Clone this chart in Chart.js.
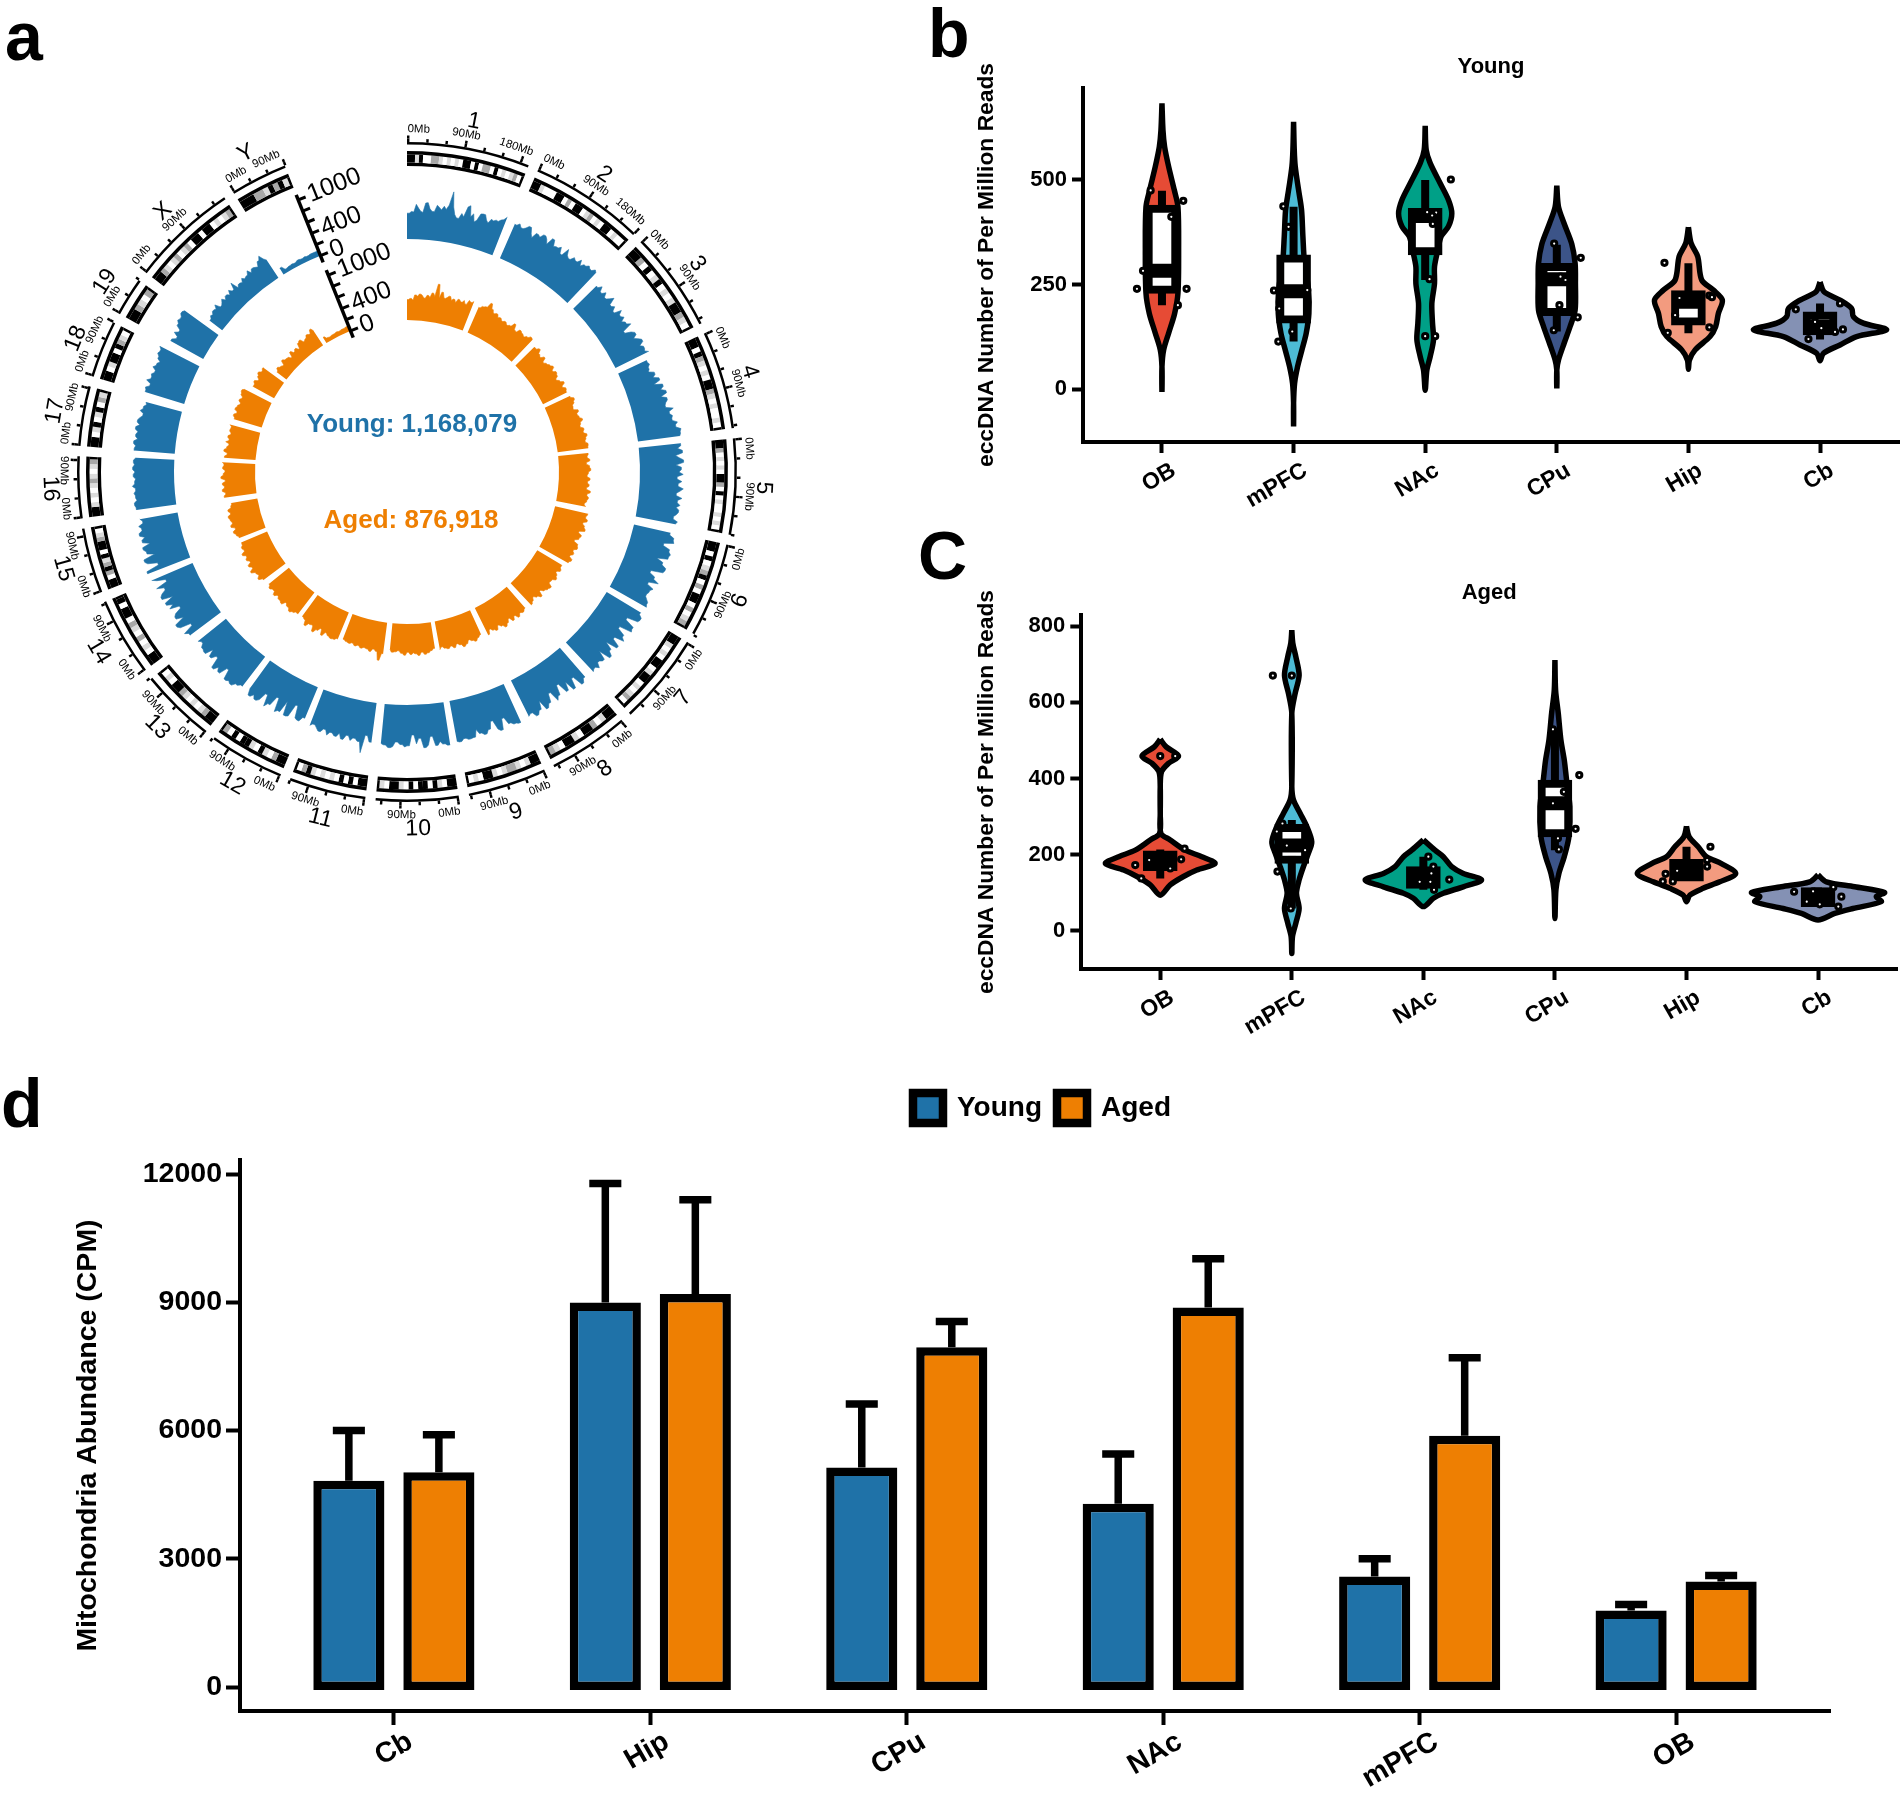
<!DOCTYPE html>
<html>
<head>
<meta charset="utf-8">
<title>eccDNA figure</title>
<script src="https://cdn.jsdelivr.net/npm/chart.js@4/dist/chart.umd.min.js"></script>
<style>
  html, body { margin: 0; padding: 0; background: #fff; }
  #page { position: relative; width: 1900px; height: 1799px; overflow: hidden; font-family: "Liberation Sans", sans-serif; }
  #page canvas { position: absolute; }
  .letter { position: absolute; font-weight: bold; font-size: 68px; line-height: 68px; color: #000; }
  .total { position: absolute; font-weight: bold; font-size: 26px; line-height: 30px; white-space: nowrap; transform: translateX(-50%); }
</style>
</head>
<body>
<div id="page">
  <canvas id="tracks" width="800" height="800" style="left:7px;top:72px"></canvas>
  <canvas id="rings" width="800" height="800" style="left:7px;top:72px"></canvas>
  <canvas id="young" width="946" height="472" style="left:960px;top:40px"></canvas>
  <canvas id="aged" width="944" height="474" style="left:960px;top:565px"></canvas>
  <canvas id="mito" width="1900" height="721" style="left:0;top:1078px"></canvas>
  <div class="letter" style="left:5px;top:2px">a</div>
  <div class="letter" style="left:928px;top:-1px">b</div>
  <div class="letter" style="left:918px;top:521px">C</div>
  <div class="letter" style="left:1px;top:1069px">d</div>
  <div class="total" style="left:412px;top:408px;color:#1f72a8">Young: 1,168,079</div>
  <div class="total" style="left:411px;top:504px;color:#ee7f02">Aged: 876,918</div>
</div>
<script>
// panel a
const chromNames = ['1','2','3','4','5','6','7','8','9','10','11','12','13','14','15','16','17','18','19','X','Y'];
const chromLengths = [195,182,160,156,152,150,145,129,125,131,122,120,120,125,104,98,95,91,61,171,91];

const chromBands = [
  'kklkwwgglwlwlwkkwkwggwkwlwlgw',
  'kklwwwkkwgwkkwlgwlwkkwlww',
  'kkgwkwlkwlwlkkglw',
  'kkwkglwlwkkglwlwwlw',
  'kkgwlwlwkkgwkwlwwlwlw',
  'kkwkwlgkwgwkkwgwlg',
  'kklwlwkkwlkkwlwlgw',
  'kklwgkkwlkkwlg',
  'kklwlgglwlkkwlw',
  'kkwlkwkkwkwlkkwl',
  'kkwkwkwlwlwlkgw',
  'kkgwlkwlkkwkwg',
  'kkglwlwlgkkwlw',
  'kkwlwgwlgwkkwk',
  'kkwgkglkwkkglw',
  'kklwlwlglwlg',
  'kkwlkwlkwgl',
  'kkwlkkwkglw',
  'kkglwg',
  'kkglwlgwlgwkkwkkwlwlg',
  'kkkgglkgkl'
];

const youngTrack = [
  [430,460,450,580,520,470,450,610,620,520,480,590,560,520,590,540,620,850,600,480,430,520,470,650,680,500,560,430,470,590,600,520,480,560,540,570,560,600,620,680],
  [620,660,610,640,690,600,540,640,610,680,640,570,700,600,620,660,560,700,610,580,650,620,690,600,660,700,670,720,690],
  [540,600,520,580,510,560,620,500,540,470,590,520,560,480,530,590,420,520,570,500,560,610,530,580,560,620],
  [520,540,500,470,560,510,600,480,620,560,640,530,620,580,560,680,600,640,620,700,660,740,720,700],
  [700,640,720,600,660,730,600,690,650,720,620,700,640,730,680,620,720,650,700,640,690,660,620,700,670],
  [620,700,720,560,680,720,700,520,640,720,700,500,600,700,540,660,620,600,640,680,700],
  [660,720,700,520,690,710,500,640,700,540,680,480,620,700,500,650,610,690,640,670],
  [640,700,520,680,500,640,460,620,680,500,640,700,520,660,720,640,670],
  [700,680,640,520,700,660,500,620,680,640,560,680,690,660,700,680],
  [720,690,640,700,540,680,720,560,650,500,680,700,660,620,700,720,680,660],
  [660,560,860,680,640,690,620,700,610,680,640,700,620,680,640,600,640],
  [560,640,620,420,640,660,430,640,680,450,620,690,500,640,680,620,680,560],
  [620,660,720,690,720,560,700,640,720,540,620,500,640,620,560,600],
  [640,700,520,700,740,560,680,640,520,680,600,700,540,720,680,600,720,520,660,740],
  [760,540,700,740,540,660,700,560,680,620,700,640,680,600,640],
  [670,690,640,660,680,650,700,660,640,680,650,690,660,680,640],
  [680,660,700,640,680,650,700,640,690,660,620,680,640,600,620],
  [680,700,640,720,660,680,640,700,660,620,680,720,700,740],
  [620,560,640,580,660,700,680,720,690],
  [260,300,280,320,300,360,270,300,340,280,330,290,360,310,420,280,320,300,360,320,340,400,330,380,360,340,420,480,400,350],
  [120,60,70,80,70,90,80,90,80,90,90,100]
];

const agedTrack = [
  [340,360,330,420,400,440,420,380,430,400,480,430,640,410,520,430,450,480,420,450,400,470,440,480,430,510,490,520],
  [460,500,520,610,530,480,500,450,470,440,460,430,450,520,440,430,490,470,450,480,520,500],
  [440,480,420,400,450,380,410,440,470,420,460,440,390,430,480,420,460,440],
  [460,510,480,440,430,500,460,480,520,470,450,500,480,530,500,480,520,510],
  [500,480,520,460,510,530,490,470,520,480,510,470,540,490,520,500,470,500],
  [560,540,580,520,560,590,500,560,540,480,560,580,530,560,520,580,550],
  [480,510,460,500,530,480,470,540,520,490,440,520,470,430,470,500],
  [470,500,480,520,460,510,440,490,530,480,440,500,470,430,500],
  [440,470,510,480,450,500,530,480,450,500,460,490,470,440,480],
  [440,470,500,520,480,530,500,480,510,470,520,490,450,470,480,430],
  [520,640,500,470,520,490,480,500,470,490,460,480,470,450],
  [480,510,520,500,470,540,450,500,560,470,480,540,460,440],
  [450,480,510,470,440,500,480,450,490,440,470,430],
  [460,520,480,500,560,500,540,480,520,490,540,480,500,470,460],
  [470,500,530,480,540,500,520,540,490,520,460,440],
  [540,510,560,520,550,500,570,530,500,540,520,550],
  [520,480,540,500,470,530,480,510,470,500,490,520],
  [480,510,470,520,500,470,510,480,520,540,500],
  [400,430,380,420,450,410,430],
  [200,240,210,190,260,230,220,180,260,210,240,200,280,300,240,260,300,280,340,290],
  [110,70,60,70,70,80,70,80,80,90,100]
];

const trackTickValues = [0,200,400,600,800,1000];
const trackTickLabels = ['0','','400','','','1000'];

// panels b and c
const regions = ['OB','mPFC','NAc','CPu','Hip','Cb'];
const regionColors = ['#e64b35','#4dbbd5','#00a087','#3c5488','#f39b7f','#8491b4'];

const youngLevels = [
  [683,619,579,532,476,436,333,229,181,134,94,54,-6],
  [639,572,532,476,428,365,301,237,181,134,94,54,14,-33,-89],
  [629,572,540,492,452,420,389,365,333,293,253,205,158,118,78,46,-2],
  [486,436,396,347,301,253,189,150,110,70,46,2],
  [387,349,317,261,237,213,181,150,126,94,70,48],
  [256,233,213,193,174,158,142,126,106,86,68]
];
const youngDensity = [
  [0,3,8,20,37,48,50,48,38,20,5,0,0],
  [0,2,5,15,24,28,33,45,46,38,25,12,3,0,0],
  [0,3,15,45,70,80,70,48,38,28,28,20,22,25,15,5,0],
  [0,5,22,45,55,56,55,40,22,5,0,0],
  [0,8,28,40,75,102,90,82,65,20,3,0],
  [0,12,60,95,100,130,200,110,60,10,0]
];
const youngQ1 = [229,158,321,176,153,130];
const youngQ3 = [440,321,432,301,236,185];
const youngMedian = [283,234,414,263,209,150];
const youngWhiskerLow = [201,114,261,138,134,119];
const youngWhiskerHigh = [474,436,500,345,301,205];
const youngPointX = [
  [-.086,.162,.071,-.144,-.19,.187,.121],
  [-.078,-.038,-.149,.104,-.109,-.01,-.116],
  [.015,.083,.053,.058,.033,0,.076,.195],
  [-.02,.182,.028,.066,.02,.159,-.023],
  [-.182,-.068,.159,.179,-.101,.159,-.157],
  [-.184,.152,-.038,.01,.114,.174,-.088]
];
const youngPointY = [
  [475,450,412,283,240,240,201],
  [437,388,236,237,193,138,114],
  [423,422,415,395,263,127,127,501],
  [348,314,269,261,201,172,141],
  [302,218,224,220,177,148,135],
  [191,205,161,146,137,143,120]
];

const agedLevels = [
  [503,483,459,440,418,379,309,256,239,212,195,177,160,143,121,94],
  [789,755,720,671,623,571,379,344,309,274,234,204,169,134,99,59,20,-15,-59],
  [239,212,195,169,151,134,116,99,86,64],
  [711,632,571,501,449,396,326,247,195,151,108,33],
  [274,247,221,195,177,151,129,112,94,77],
  [147,129,116,101,90,77,59,46,29]
];
const agedDensity = [
  [0,18,55,25,4,0,0,2,30,75,125,165,110,70,30,0],
  [0,3,12,22,10,0,0,5,25,45,60,50,35,22,14,22,12,2,0],
  [0,35,60,85,120,175,120,60,30,0],
  [0,2,10,18,28,35,45,42,28,12,3,0],
  [0,8,35,60,105,148,100,50,10,0],
  [0,25,110,200,175,190,105,50,0]
];
const agedQ1 = [158,177,112,247,131,64];
const agedQ3 = [210,280,169,396,188,114];
const agedMedian = [186,224,143,335,160,90];
const agedWhiskerLow = [138,59,108,212,131,64];
const agedWhiskerHigh = [214,291,195,527,221,114];
const agedPointX = [
  [0,.114,.185,.159,-.084,.076,-.19,-.144],
  [-.144,0,-.071,-.114,-.038,.101,-.109,-.008],
  [.038,.076,.061,.197,.053,-.028,.081],
  [-.015,.185,.068,-.015,.157,.023,.03],
  [.182,.157,.157,-.071,-.159,-.18,-.104],
  [-.182,.116,.177,-.038,.154,-.086,.013]
];
const agedPointY = [
  [459,459,216,188,186,164,173,138],
  [670,670,282,261,224,212,156,59],
  [195,169,151,135,129,129,108],
  [529,409,365,335,268,243,214],
  [221,186,169,158,150,130,130],
  [103,115,90,104,64,77,70]
];

// panel d
const mitoRegions = ['Cb','Hip','CPu','NAc','mPFC','OB'];
const mitoYoung = [4825,8995,5135,4285,2585,1790];
const mitoAged = [5025,9195,7945,8880,5875,2470];
const mitoYoungTop = [6000,11780,6620,5450,3000,1930];
const mitoAgedTop = [5900,11400,8550,10020,7700,2610];
const mitoTicks = [0,3000,6000,9000,12000];

const BLUE = '#1f72a8';
const ORANGE = '#ee7f02';
Chart.defaults.font.family = '"Liberation Sans", sans-serif';
Chart.defaults.color = '#000';
Chart.defaults.animation = false;
Chart.defaults.responsive = false;
Chart.defaults.plugins.tooltip.enabled = false;
Chart.defaults.events = [];

// circos layout
const DEG_PER_MB = 0.111;
const GAP_DEG = 1.8;
const SLOTS = 720;
const COUNTS_PER_PX = 1000 / 60;
const YOUNG_BASE = 233 * COUNTS_PER_PX;
const AGED_BASE = 152 * COUNTS_PER_PX;
const AXIS_DEG = 338.2;

const chromStart = [];
let cursorDeg = 0;
chromLengths.forEach(function (len) {
  chromStart.push(cursorDeg);
  cursorDeg += len * DEG_PER_MB + GAP_DEG;
});

function trackData(track, base) {
  let out = new Array(SLOTS).fill(null);
  track.forEach(function (values, c) {
    let s = Math.round(chromStart[c] * 2);
    let n = Math.round(chromLengths[c] * DEG_PER_MB * 2);
    for (let k = 0; k <= n; k++) {
      out[s + k] = base + values[Math.floor(k * values.length / (n + 1))];
    }
  });
  return out;
}

function ring(slicesForChrom) {
  let data = [], colors = [], at = 0;
  function push(deg, color) {
    if (deg <= 0) return;
    if (colors.length && colors[colors.length - 1] == color) data[data.length - 1] += deg;
    else { data.push(deg); colors.push(color); }
    at += deg;
  }
  chromLengths.forEach(function (len, c) {
    slicesForChrom(c, len * DEG_PER_MB, function (from, deg, color) {
      push(chromStart[c] + from - at, 'rgba(0,0,0,0)');
      push(deg, color);
    });
  });
  push(360 - at, 'rgba(0,0,0,0)');
  return { data: data, backgroundColor: colors };
}

const shades = { k: '#000000', g: '#a8a8a8', l: '#dcdcdc', w: '#ffffff' };

function solidRing(c, span, add) { add(0, span, '#000'); }
function bandRing(c, span, add) {
  let bands = chromBands[c];
  let cap = 0.45, w = (span - cap) / bands.length;
  for (let i = 0; i < bands.length; i++) add(i * w, w, shades[bands[i]]);
  add(span - cap, cap, '#000');
}
function tickRing(step) {
  return function (c, span, add) {
    for (let mb = 0; mb <= chromLengths[c]; mb += step) {
      add(mb * DEG_PER_MB, 0.42, '#000');
    }
  };
}

// first dataset is the outermost ring
new Chart(document.getElementById('rings'), {
  type: 'doughnut',
  data: {
    labels: [],
    datasets: [
      Object.assign(ring(tickRing(90)), { weight: 3 }),
      Object.assign(ring(tickRing(30)), { weight: 3.5 }),
      Object.assign(ring(solidRing), { weight: 2.5 }),
      { data: [360], backgroundColor: ['rgba(0,0,0,0)'], weight: 6.5 },
      Object.assign(ring(solidRing), { weight: 3.5 }),
      Object.assign(ring(bandRing), { weight: 8 }),
      Object.assign(ring(solidRing), { weight: 3.5 })
    ]
  },
  options: {
    radius: 336.5,
    cutout: (306 / 336.5 * 100) + '%',
    borderWidth: 0,
    plugins: { legend: { display: false } }
  }
});

// text and axes around the circle
const circosText = {
  id: 'circosText',
  afterDraw(chart) {
    const scale = chart.scales.r;
    const ctx = chart.ctx;
    function place(deg, r, text, flip) {
      let p = scale.getPointPositionForValue(deg * 2, r * COUNTS_PER_PX);
      ctx.save();
      ctx.translate(p.x, p.y);
      ctx.rotate((flip ? deg - 180 : deg) * Math.PI / 180);
      ctx.fillText(text, 0, 0);
      ctx.restore();
    }
    ctx.save();
    ctx.fillStyle = '#000';
    ctx.textAlign = 'center';
    ctx.textBaseline = 'middle';
    chromNames.forEach(function (name, c) {
      let span = chromLengths[c] * DEG_PER_MB;
      let flip = chromStart[c] > 90 && chromStart[c] < 270;
      ctx.font = '11.5px "Liberation Sans"';
      for (let mb = 0; mb <= chromLengths[c]; mb += 90) {
        let text = mb + 'Mb';
        let half = (ctx.measureText(text).width / 2 + 0.5) / 342 * 180 / Math.PI;
        let deg = Math.max(half, Math.min(span - half, mb * DEG_PER_MB));
        place(chromStart[c] + deg, 343, text, flip);
      }
      ctx.font = '23px "Liberation Sans"';
      place(chromStart[c] + span / 2, 357, name, flip);
    });
    [YOUNG_BASE, AGED_BASE].forEach(function (base) {
      let rot = (AXIS_DEG - 360) * Math.PI / 180;
      let dx = Math.cos(rot), dy = Math.sin(rot);
      let a = scale.getPointPositionForValue(AXIS_DEG * 2, base - 120);
      let b = scale.getPointPositionForValue(AXIS_DEG * 2, base + 1090);
      ctx.strokeStyle = '#000';
      ctx.lineWidth = 3.5;
      ctx.beginPath();
      ctx.moveTo(a.x, a.y);
      ctx.lineTo(b.x, b.y);
      ctx.stroke();
      ctx.lineWidth = 3;
      ctx.font = '25px "Liberation Sans"';
      ctx.textAlign = 'left';
      trackTickValues.forEach(function (v, i) {
        let p = scale.getPointPositionForValue(AXIS_DEG * 2, base + v);
        ctx.beginPath();
        ctx.moveTo(p.x, p.y);
        ctx.lineTo(p.x + dx * 8, p.y + dy * 8);
        ctx.stroke();
        if (trackTickLabels[i]) {
          ctx.save();
          ctx.translate(p.x + dx * 11, p.y + dy * 11);
          ctx.rotate(rot);
          ctx.fillText(trackTickLabels[i], 0, 0);
          ctx.restore();
        }
      });
      ctx.textAlign = 'center';
    });
    ctx.restore();
  }
};

new Chart(document.getElementById('tracks'), {
  type: 'radar',
  data: {
    labels: new Array(SLOTS).fill(''),
    datasets: [
      { label: 'Young', data: trackData(youngTrack, YOUNG_BASE), backgroundColor: BLUE, borderColor: BLUE, fill: { value: YOUNG_BASE } },
      { label: 'Aged', data: trackData(agedTrack, AGED_BASE), backgroundColor: ORANGE, borderColor: ORANGE, fill: { value: AGED_BASE } }
    ]
  },
  options: {
    elements: { line: { borderWidth: 0.6, tension: 0 }, point: { radius: 0 } },
    scales: {
      r: {
        min: 0,
        max: 400 * COUNTS_PER_PX,
        ticks: { display: false },
        grid: { display: false, circular: true },
        angleLines: { display: false },
        pointLabels: { display: false }
      }
    },
    plugins: { legend: { display: false } }
  },
  plugins: [circosText]
});

// violin panels
const DENSITY_SCALE = 1 / 395.7;

function violinOutline(i, levels, density) {
  let pts = [];
  levels.forEach(function (y, k) { pts.push({ x: i + density[k] * DENSITY_SCALE, y: y }); });
  for (let k = levels.length - 2; k >= 0; k--) pts.push({ x: i - density[k] * DENSITY_SCALE, y: levels[k] });
  return pts;
}

function violinDatasets(levels, density, q1, q3, median, low, high, pointX, pointY) {
  let sets = levels.map(function (lv, i) {
    return {
      type: 'line',
      data: violinOutline(i, lv, density[i]),
      backgroundColor: regionColors[i],
      borderColor: '#000',
      borderWidth: 5.5,
      fill: 'shape',
      tension: 0.3,
      pointRadius: 0,
      order: 10
    };
  });
  let whiskers = [], medians = [], dots = [];
  regions.forEach(function (r, i) {
    whiskers.push({ x: i, y: low[i] }, { x: i, y: high[i] }, { x: i, y: null });
    medians.push({ x: i - 0.115, y: median[i] }, { x: i + 0.115, y: median[i] }, { x: i, y: null });
    pointX[i].forEach(function (dx, k) { dots.push({ x: i + dx, y: pointY[i][k] }); });
  });
  sets.push({ type: 'line', data: whiskers, borderColor: '#000', borderWidth: 8, pointRadius: 0, tension: 0, fill: false, order: 8 });
  sets.push({
    type: 'bar',
    data: regions.map(function (r, i) { return { x: i, y: [q1[i], q3[i]] }; }),
    backgroundColor: '#fff',
    borderColor: '#000',
    borderWidth: 8,
    borderSkipped: false,
    barThickness: 34,
    order: 6
  });
  sets.push({ type: 'line', data: medians, borderColor: '#000', borderWidth: 14, pointRadius: 0, tension: 0, fill: false, order: 4 });
  sets.push({
    type: 'scatter',
    data: dots,
    pointRadius: 2.6,
    pointBorderWidth: 3,
    pointBackgroundColor: '#fff',
    pointBorderColor: '#000',
    order: 1
  });
  return sets;
}

function fixedTicks(values) {
  return function (scale) { scale.ticks = values.map(function (v) { return { value: v }; }); };
}

function plainNumber(v) { return String(v); }

function violinChart(id, titleText, titleTop, titleBottom, sets, yMin, yMax, yTicks, leftWidth) {
  return new Chart(document.getElementById(id), {
    type: 'bar',
    data: { datasets: sets },
    options: {
      plugins: {
        legend: { display: false },
        title: {
          display: true,
          text: titleText,
          fullSize: false,
          font: { size: 22, weight: 'bold' },
          padding: { top: titleTop, bottom: titleBottom }
        }
      },
      scales: {
        x: {
          type: 'linear',
          min: -0.6,
          max: 5.6,
          offset: false,
          afterBuildTicks: fixedTicks(regions.map(function (r, i) { return i; })),
          afterFit: function (scale) { scale.height = 70; },
          border: { display: true, width: 4, color: '#000' },
          grid: { offset: false, drawOnChartArea: false, drawTicks: true, tickLength: 11, tickWidth: 4, tickColor: '#000' },
          ticks: {
            callback: function (v) { return regions[v]; },
            autoSkip: false,
            minRotation: 30,
            maxRotation: 30,
            labelOffset: 12,
            padding: 4,
            font: { size: 23, weight: 'bold' }
          }
        },
        y: {
          min: yMin,
          max: yMax,
          afterBuildTicks: fixedTicks(yTicks),
          afterFit: function (scale) { scale.width = leftWidth; },
          border: { display: true, width: 4, color: '#000' },
          grid: { drawOnChartArea: false, drawTicks: true, tickLength: 11, tickWidth: 4, tickColor: '#000' },
          ticks: { padding: 5, font: { size: 22, weight: 'bold' }, callback: plainNumber },
          title: {
            display: true,
            text: 'eccDNA Number of Per Million Reads',
            font: { size: 22.8, weight: 'bold' },
            padding: { top: 13.5, bottom: 0 }
          }
        }
      }
    }
  });
}

violinChart('young', 'Young', 13.8, 7.8,
  violinDatasets(youngLevels, youngDensity, youngQ1, youngQ3, youngMedian, youngWhiskerLow, youngWhiskerHigh, youngPointX, youngPointY),
  -125.8, 719.5, [0,250,500], 123);

violinChart('aged', 'Aged', 14.8, 8.8,
  violinDatasets(agedLevels, agedDensity, agedQ1, agedQ3, agedMedian, agedWhiskerLow, agedWhiskerHigh, agedPointX, agedPointY),
  -99.7, 829, [0,200,400,600,800], 121.3);

// bar panel
const BAR_SHIFT = 0.1755;
const CAP_HALF = 0.0625;

function errorLines(tops, values, shift) {
  let pts = [];
  tops.forEach(function (top, i) {
    let x = i + shift;
    pts.push({ x: x, y: values[i] }, { x: x, y: top }, { x: x, y: null });
    pts.push({ x: x - CAP_HALF, y: top }, { x: x + CAP_HALF, y: top }, { x: x, y: null });
  });
  return pts;
}

const legendPlace = {
  id: 'legendPlace',
  beforeInit(chart) {
    const fit = chart.legend.fit;
    chart.legend.fit = function () { fit.call(this); this.height = 82; };
  },
  afterLayout(chart) {
    chart.legend.left += 127;
    chart.legend.right += 127;
  }
};

function barPoints(values) {
  return values.map(function (v, i) { return { x: i, y: v }; });
}

new Chart(document.getElementById('mito'), {
  type: 'bar',
  data: {
    datasets: [
      { label: 'Young', data: barPoints(mitoYoung), base: -70, backgroundColor: BLUE, borderColor: '#000', borderWidth: 8.5, borderSkipped: false, categoryPercentage: 0.702, barPercentage: 0.79, order: 5 },
      { label: 'Aged', data: barPoints(mitoAged), base: -70, backgroundColor: ORANGE, borderColor: '#000', borderWidth: 8.5, borderSkipped: false, categoryPercentage: 0.702, barPercentage: 0.79, order: 5 },
      { type: 'line', data: errorLines(mitoYoungTop, mitoYoung, -BAR_SHIFT), borderColor: '#000', borderWidth: 7.5, pointRadius: 0, tension: 0, fill: false, order: 1 },
      { type: 'line', data: errorLines(mitoAgedTop, mitoAged, BAR_SHIFT), borderColor: '#000', borderWidth: 7.5, pointRadius: 0, tension: 0, fill: false, order: 1 }
    ]
  },
  options: {
    layout: { padding: { right: 70 } },
    plugins: {
      legend: {
        position: 'top',
        labels: {
          boxWidth: 30,
          boxHeight: 30,
          padding: 15,
          font: { size: 28, weight: 'bold' },
          filter: function (item) { return !!item.text; }
        }
      }
    },
    scales: {
      x: {
        type: 'linear',
        min: -0.6,
        max: 5.6,
        offset: false,
        afterBuildTicks: fixedTicks(mitoRegions.map(function (r, i) { return i; })),
        afterFit: function (scale) { scale.height = 88; },
        border: { display: true, width: 4, color: '#000' },
        grid: { offset: false, drawOnChartArea: false, drawTicks: true, tickLength: 14, tickWidth: 4, tickColor: '#000' },
        ticks: {
          callback: function (v) { return mitoRegions[v]; },
          autoSkip: false,
          minRotation: 30,
          maxRotation: 30,
          labelOffset: 16.5,
          padding: 0,
          font: { size: 28.5, weight: 'bold' }
        }
      },
      y: {
        min: -561,
        max: 12328,
        afterBuildTicks: fixedTicks(mitoTicks),
        afterFit: function (scale) { scale.width = 240; },
        border: { display: true, width: 4, color: '#000' },
        grid: { drawOnChartArea: false, drawTicks: true, tickLength: 14, tickWidth: 4, tickColor: '#000' },
        ticks: { padding: 4, font: { size: 28.5, weight: 'bold' }, callback: plainNumber },
        title: {
          display: true,
          text: 'Mitochondria Abundance (CPM)',
          font: { size: 28.5, weight: 'bold' },
          padding: { top: 71, bottom: 0 }
        }
      }
    }
  },
  plugins: [legendPlace]
});
</script>
</body>
</html>
